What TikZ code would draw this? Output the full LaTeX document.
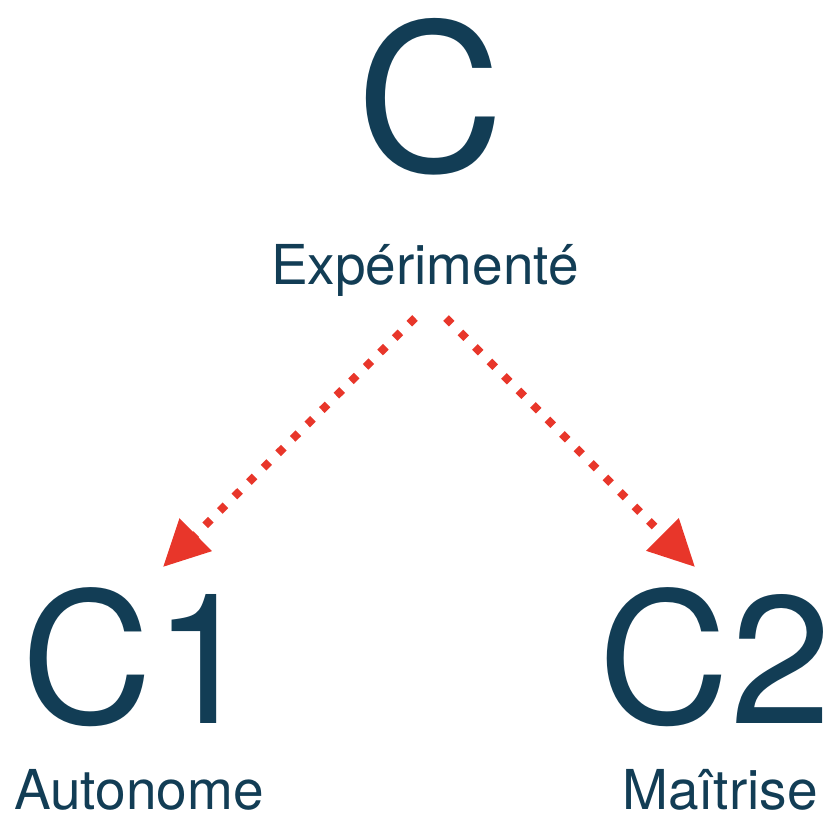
\documentclass[tikz,border=0pt]{standalone}
\usepackage{fontspec}
\setmainfont{TeX Gyre Heros}
\usetikzlibrary{arrows.meta}
\definecolor{navy}{HTML}{123D55}
\definecolor{arrred}{HTML}{E8362A}
\tikzset{
  bigtop/.style={text=navy, inner sep=0pt, anchor=base, font=\fontsize{205}{205}\selectfont},
  big/.style={text=navy, inner sep=0pt, anchor=base, font=\fontsize{182}{182}\selectfont},
  lbl/.style={text=navy, inner sep=0pt, anchor=base, font=\fontsize{55}{55}\selectfont},
  link/.style={draw=arrred, line width=8pt, dash pattern=on 8pt off 12.5pt,
    -{Triangle[length=46pt,width=44pt]}}
}
\begin{document}
\begin{tikzpicture}[x=1pt,y=1pt]
\useasboundingbox (0,0) rectangle (826,816);
\node[bigtop] (c) at (430,644) {C};
\node[lbl] (exp) at (425,531) {Expérimenté};
\node[big] (c1) at (138,93) {C1};
\node[lbl] (auto) at (139,7) {Autonome};
\node[big] (c2) at (715,93) {C2};
\node[lbl] (mait) at (720,7) {Maîtrise};
\coordinate (l0) at (415,498);
\coordinate (l1) at (163,249);
\coordinate (r0) at (446,498);
\coordinate (r1) at (695,249);
\draw[link] (l0) -- (l1);
\draw[link] (r0) -- (r1);
\end{tikzpicture}
\end{document}
